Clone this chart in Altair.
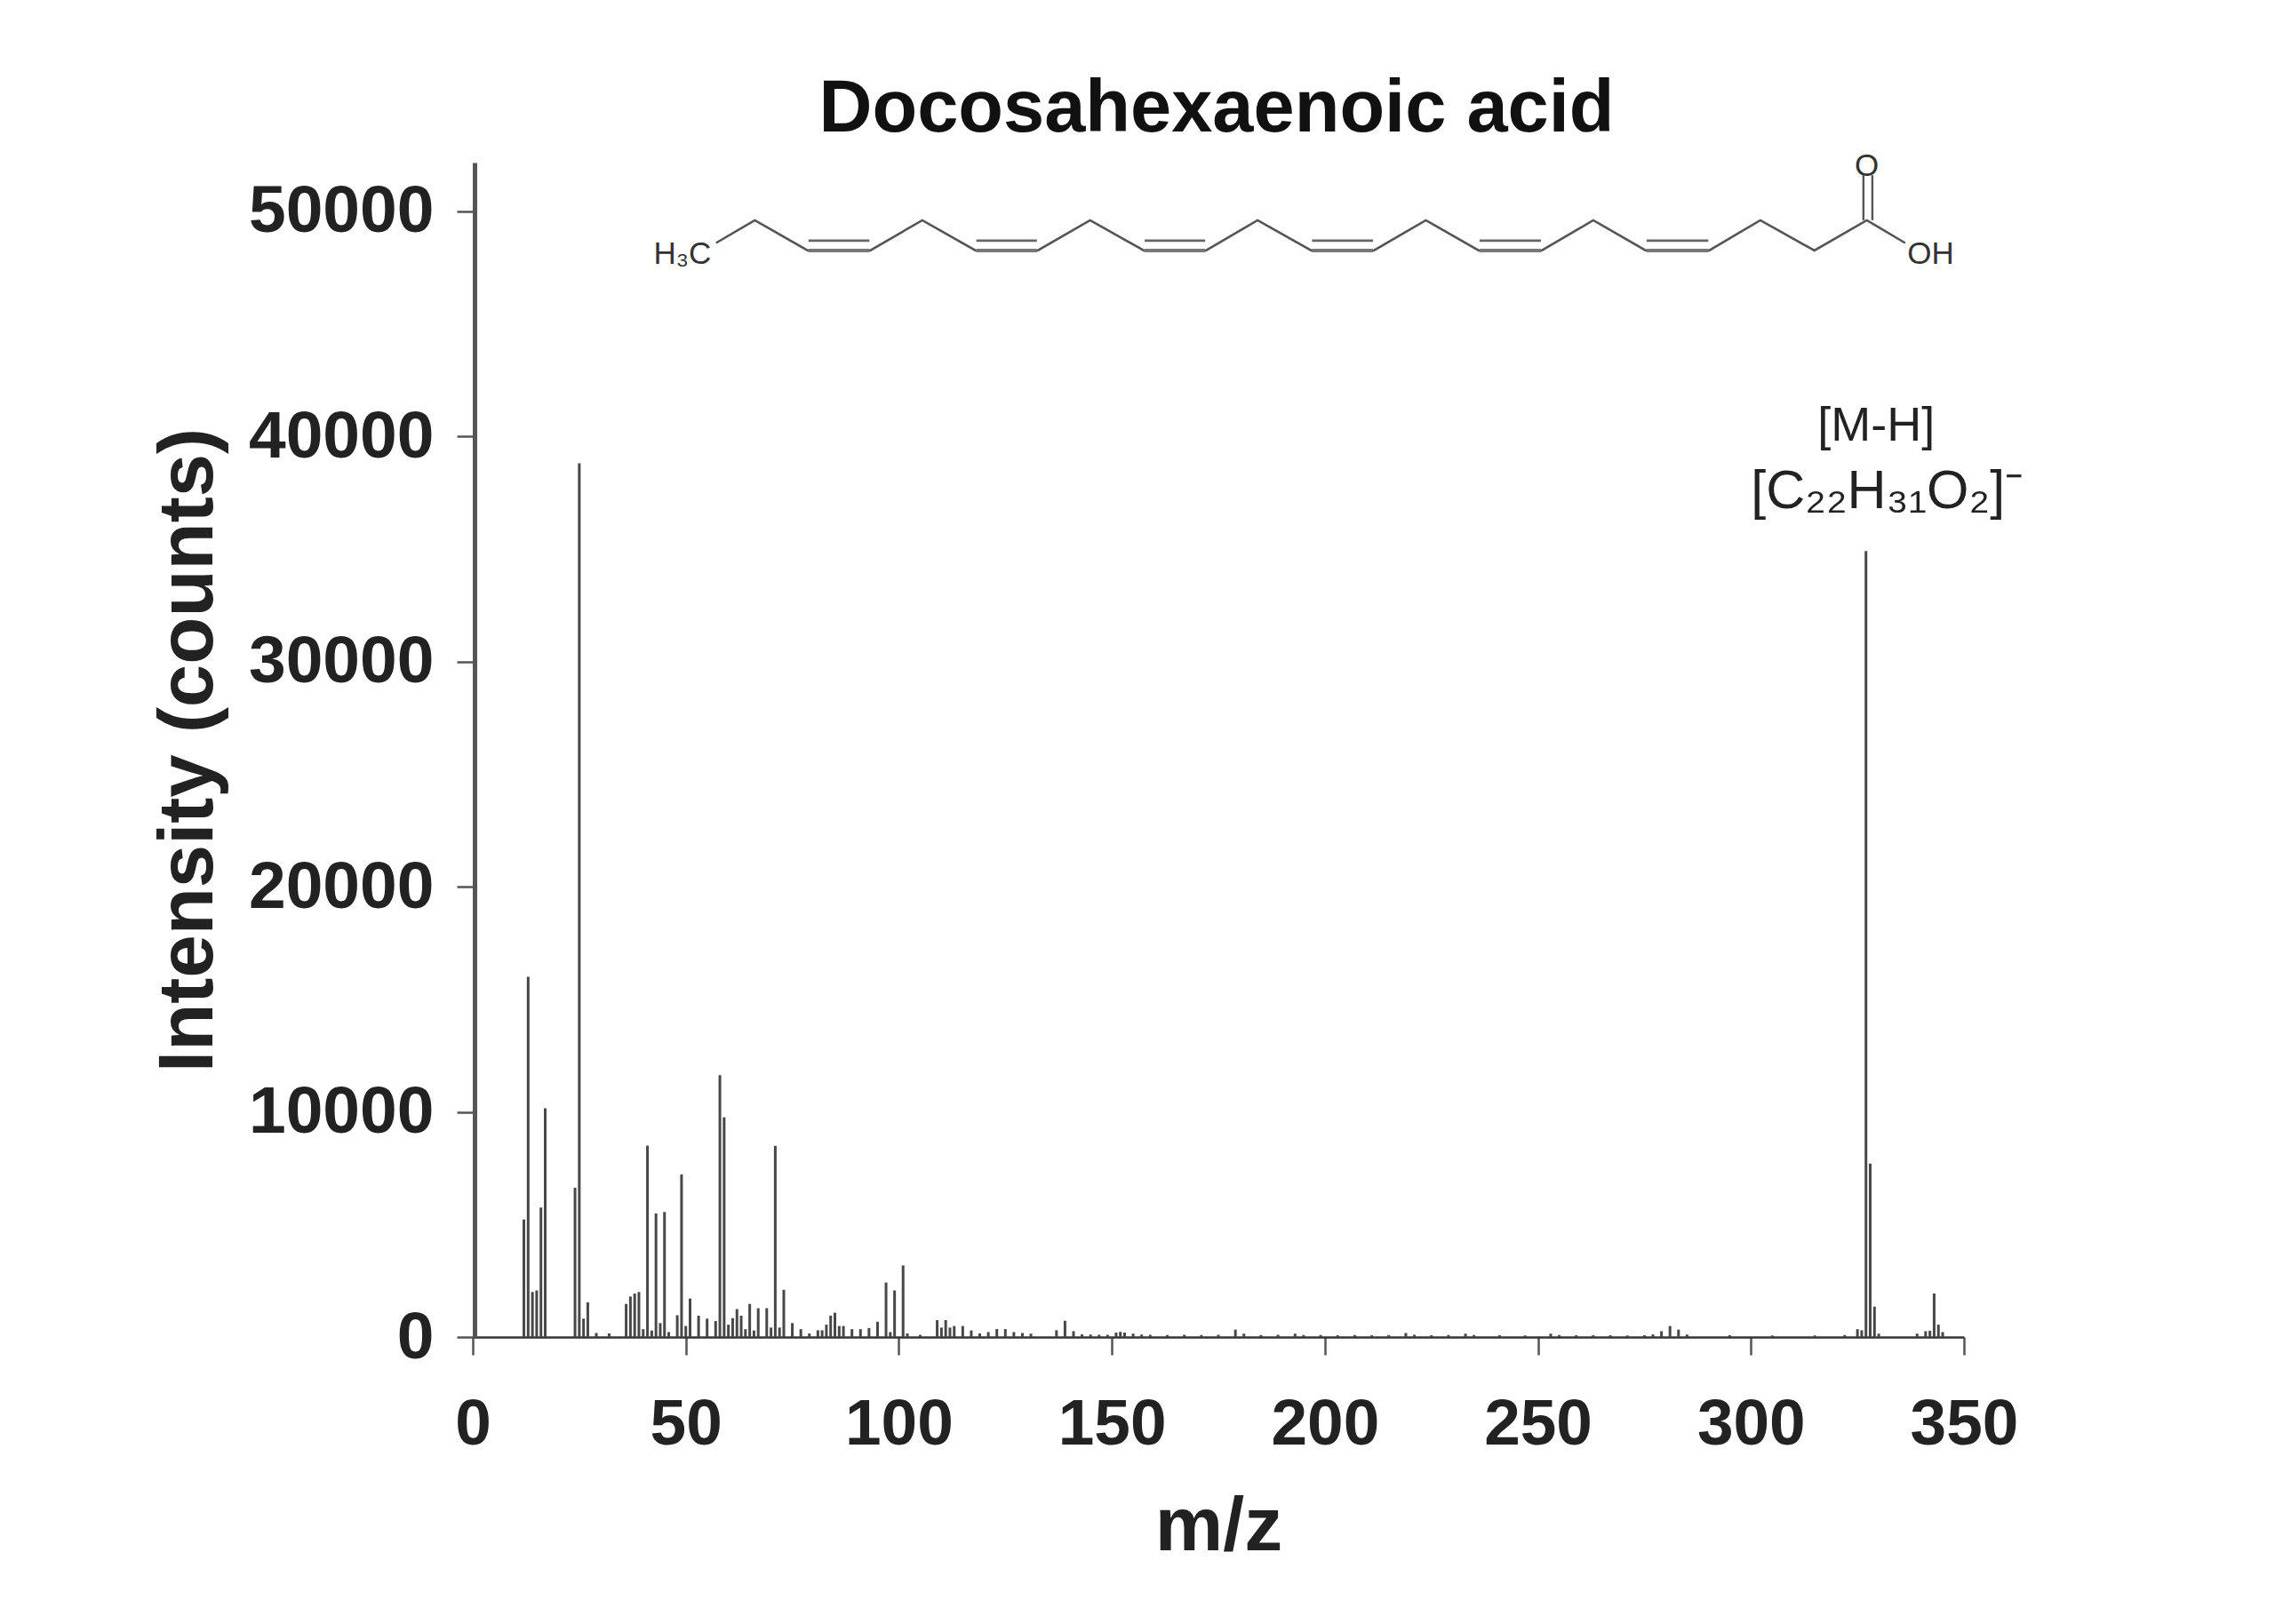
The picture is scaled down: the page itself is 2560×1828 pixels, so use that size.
import altair as alt
import pandas as pd

# Spectrum: m/z and intensity
mz = [12,13,14,15,16,17,24,25,26,27,29,32,36,37,38,39,40,41,42,43,44,45,46,48,49,50,51,53,55,57,58,59,60,61,62,63,64,65,66,67,69,70,71,72,73,75,77,79,81,82,83,84,85,86,87,89,91,93,95,97,98,99,101,102,
      105,109,110,111,112,113,115,117,119,121,123,125,127,129,131,137,139,141,143,145,147,149,151,152,153,155,157,159,163,167,171,175,179,181,185,189,193,195,199,203,207,211,215,219,221,225,229,233,235,241,247,253,255,259,263,267,271,275,277,279,281,283,285,295,305,315,322,
      325,326,327,328,329,330,339,341,342,343,344,345]
intensity = [5220,16000,2000,2070,5750,10160,6630,38800,816,1540,180,160,1470,1800,1930,2000,350,8500,290,5490,620,5550,220,970,7220,490,1710,950,816,710,11630,9760,550,840,1240,950,350,1470,290,1280,1280,420,8490,420,2100,620,350,160,300,300,550,950,1080,490,490,350,350,400,680,2420,220,2070,3180,160,
             100,750,420,750,420,490,490,290,160,220,355,355,220,180,150,300,720,260,120,110,100,100,200,230,200,150,110,100,90,100,90,100,330,150,90,100,150,90,90,80,90,80,90,180,100,80,90,150,90,80,70,150,90,80,80,80,70,80,120,260,490,330,110,80,70,70,90,
             350,300,34900,7700,1350,150,150,260,280,1934,550,220]

# Axis ticks
x_ticks = [0,50,100,150,200,250,300,350]
y_ticks = [0,10000,20000,30000,40000,50000]

# Skeletal formula, in the chart's own units
chain_x = [57.1,66.2,78.6,93.3,105.5,118.0,132.6,144.9,157.5,172.1,184.2,196.8,211.5,223.7,236.1,250.9,263.0,275.3,290.2,302.2,314.9,327.2,336.2]
chain_y = [48580,49590,48245,48245,49590,48245,48245,49590,48245,48245,49590,48245,48245,49590,48245,48245,49590,48245,48245,49590,48245,49590,48580]
double_x1 = [78.8,118.2,157.7,197.0,236.3,275.5]
double_x2 = [93.1,132.4,171.9,211.3,250.7,290.0]
double_y = [48680,48680,48680,48680,48680,48680]
lower_y = [48245,48245,48245,48245,48245,48245]
carbonyl_x = [326.4,328.5]
carbonyl_y1 = [49590,49590]
carbonyl_y2 = [51590,51590]

# Text labels
note_text = ["H\u2083C","O","OH"]
note_x = [49.2,327.2,342.2]
note_y = [48100,52000,48100]
ion_name = ["[M-H]"]
ion_name_x = [329.4]
ion_name_y = [40420]
ion_formula = ["[C\u2082\u2082H\u2083\u2081O\u2082]\u207b"]
ion_formula_x = [332.0]
ion_formula_y = [37500]

FONT = "Liberation Sans"
INK = "#222222"
LINE = "#555555"

x_scale = alt.Scale(domain=[0,350], nice=False, zero=False)
y_scale = alt.Scale(domain=[0,52150], nice=False, zero=False)

spec = pd.DataFrame({"mz":mz,"intensity":intensity,"base":[0]*len(mz)})

peaks = alt.Chart(spec).mark_rule(color="#484848", strokeWidth=3).encode(
    x=alt.X("mz:Q", scale=x_scale, axis=alt.Axis(
        title="m/z", values=x_ticks, format="d", grid=False,
        labelFont=FONT, labelFontSize=73, labelFontWeight="bold", labelColor=INK, labelPadding=42,
        labelFlush=False, labelOverlap=False, labelLimit=0,
        titleFont=FONT, titleFontSize=86, titleFontWeight="bold", titleColor=INK, titlePadding=36,
        domainColor="#333333", domainWidth=2.5, tickColor=LINE, tickWidth=2.5, tickSize=20)),
    y=alt.Y("intensity:Q", scale=y_scale, axis=alt.Axis(
        title="Intensity (counts)", values=y_ticks, format="d", grid=False, offset=-2,
        labelFont=FONT, labelFontSize=75, labelFontWeight="bold", labelColor=INK, labelPadding=26,
        labelFlush=False, labelOverlap=False, labelLimit=0,
        titleFont=FONT, titleFontSize=87, titleFontWeight="bold", titleColor=INK, titlePadding=78,
        domainColor="#555555", domainWidth=5, tickColor=LINE, tickWidth=2.5, tickSize=20)),
    y2="base:Q",
)

chain_df = pd.DataFrame({"x":chain_x,"y":chain_y,"i":list(range(len(chain_x)))})
chain = alt.Chart(chain_df).mark_line(color="#555555", strokeWidth=2.6).encode(
    x=alt.X("x:Q", scale=x_scale), y=alt.Y("y:Q", scale=y_scale), order="i:Q")

dbl_df = pd.DataFrame({"x":double_x1,"x2":double_x2,"y":double_y})
dbl = alt.Chart(dbl_df).mark_rule(color="#666666", strokeWidth=2.8).encode(
    x=alt.X("x:Q", scale=x_scale), x2="x2:Q", y=alt.Y("y:Q", scale=y_scale))

low_df = pd.DataFrame({"x":double_x1,"x2":double_x2,"y":lower_y})
low = alt.Chart(low_df).mark_rule(color="#777777", strokeWidth=4).encode(
    x=alt.X("x:Q", scale=x_scale), x2="x2:Q", y=alt.Y("y:Q", scale=y_scale))

co_df = pd.DataFrame({"x":carbonyl_x,"y":carbonyl_y1,"y2":carbonyl_y2})
co = alt.Chart(co_df).mark_rule(color="#555555", strokeWidth=2.4).encode(
    x=alt.X("x:Q", scale=x_scale), y=alt.Y("y:Q", scale=y_scale), y2="y2:Q")

notes_df = pd.DataFrame({"t":note_text,"x":note_x,"y":note_y})
notes = alt.Chart(notes_df).mark_text(font=FONT, fontSize=35, color="#333333", baseline="middle", align="center").encode(
    x=alt.X("x:Q", scale=x_scale), y=alt.Y("y:Q", scale=y_scale), text="t:N")

name_df = pd.DataFrame({"t":ion_name,"x":ion_name_x,"y":ion_name_y})
name = alt.Chart(name_df).mark_text(font=FONT, fontSize=54, color="#222222", baseline="middle", align="center").encode(
    x=alt.X("x:Q", scale=x_scale), y=alt.Y("y:Q", scale=y_scale), text="t:N")

formula_df = pd.DataFrame({"t":ion_formula,"x":ion_formula_x,"y":ion_formula_y})
formula = alt.Chart(formula_df).mark_text(font=FONT, fontSize=61, color="#222222", baseline="middle", align="center").encode(
    x=alt.X("x:Q", scale=x_scale), y=alt.Y("y:Q", scale=y_scale), text="t:N")

chart = alt.layer(peaks, chain, dbl, low, co, notes, name, formula).properties(
    width=1678, height=1322,
    autosize=alt.AutoSizeParams(type="none"),
    padding={"left":524,"top":175,"right":340,"bottom":310},
    background="white",
    title=alt.TitleParams("Docosahexaenoic acid", font=FONT, fontSize=83, fontWeight="bold", color="#111111",
                          anchor="middle", offset=5, dx=-2),
).configure_view(stroke=None)

chart.save("out.html", embed_options={"renderer": "svg", "actions": False})
